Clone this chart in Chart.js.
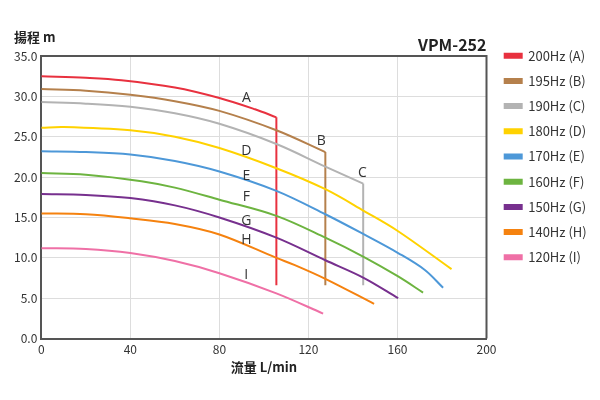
<!DOCTYPE html>
<html>
<head>
<meta charset="utf-8">
<script src="https://cdn.jsdelivr.net/npm/chart.js@4"></script>
<style>
  html, body { margin: 0; padding: 0; background: #fff; }
  #wrap { width: 600px; height: 400px; }
</style>
</head>
<body>
<div id="wrap"><canvas id="myChart"></canvas></div>
<script>
const FONT = "'Noto Sans CJK TC', 'Open Sans', sans-serif";

// curve values (flow L/min, head m)
const legendNames = ["200Hz (A)", "195Hz (B)", "190Hz (C)", "180Hz (D)", "170Hz (E)", "160Hz (F)", "150Hz (G)", "140Hz (H)", "120Hz (I)"];
const colors = ["#e8313f", "#b5804c", "#b3b3b3", "#ffd200", "#4d98d8", "#6db440", "#77308e", "#f5820f", "#ef70a6"];

const flowA = [0, 20, 36, 60, 80, 96, 105.6];
const headA = [32.5, 32.3, 32.0, 31.1, 29.8, 28.4, 27.4];
const flowB = [0, 20, 40, 60, 80, 105.6, 127.6];
const headB = [30.9, 30.7, 30.2, 29.4, 28.2, 25.8, 23.1];
const flowC = [0, 20, 40, 60, 80, 105.6, 127.6, 144.6];
const headC = [29.3, 29.1, 28.7, 27.9, 26.6, 24.1, 21.3, 19.2];
const flowD = [0, 10, 40, 60, 80, 105.6, 127.6, 145, 160.3, 184.3];
const headD = [26.1, 26.2, 25.8, 25.0, 23.6, 21.1, 18.5, 15.8, 13.3, 8.6];
const flowE = [0, 20, 40, 60, 80, 105.6, 127.6, 145, 160.3, 172.3, 180.5];
const headE = [23.2, 23.1, 22.8, 22.0, 20.7, 18.3, 15.4, 12.9, 10.6, 8.5, 6.3];
const flowF = [0, 20, 45, 60, 80, 105.6, 127.6, 145, 160.3, 171.5];
const headF = [20.5, 20.3, 19.5, 18.7, 17.2, 15.2, 12.5, 10.1, 7.7, 5.7];
const flowG = [0, 20, 40, 60, 80, 105.6, 127.6, 145, 160.3];
const headG = [17.9, 17.8, 17.4, 16.5, 15.0, 12.5, 9.7, 7.5, 5.0];
const flowH = [0, 20, 40, 60, 80, 105.6, 113.9, 127.6, 149.5];
const headH = [15.5, 15.4, 14.9, 14.2, 12.9, 10.0, 9.1, 7.4, 4.3];
const flowI = [0, 20, 40, 60, 80, 105.6, 126.6];
const headI = [11.2, 11.1, 10.6, 9.6, 8.1, 5.6, 3.1];

// vertical cut-off lines for A, B, C
const cutFlow = [105.6, 127.6, 144.6];
const cutTop = [27.4, 23.1, 19.2];
const cutBottom = [6.6, 6.6, 6.6];

// curve letters
const letters = ["A", "B", "C", "D", "E", "F", "G", "H", "I"];
const letterFlow = [92.1, 125.8, 144.3, 92.1, 92.1, 92.1, 92.1, 92.1, 92.1];
const letterHead = [29.8, 24.5, 20.5, 23.2, 20.1, 17.5, 14.6, 12.2, 7.9];

const xTicks = [0, 40, 80, 120, 160, 200];

const flows = [flowA, flowB, flowC, flowD, flowE, flowF, flowG, flowH, flowI];
const heads = [headA, headB, headC, headD, headE, headF, headG, headH, headI];

let datasets = flows.map((f, i) => ({
  label: legendNames[i],
  data: f.map((x, j) => ({ x: x, y: heads[i][j] })),
  borderColor: colors[i],
  backgroundColor: colors[i],
  borderWidth: 2,
  pointRadius: 0,
  showLine: true,
  tension: 0.35
}));

cutFlow.forEach((x, i) => {
  datasets.push({
    label: "cut",
    data: [{ x: x, y: cutTop[i] }, { x: x, y: cutBottom[i] }],
    borderColor: colors[i],
    borderWidth: 2,
    pointRadius: 0,
    showLine: true,
    tension: 0
  });
});

const extras = {
  id: "extras",
  afterDraw(chart) {
    const c = chart.ctx;
    const a = chart.chartArea;
    const xs = chart.scales.x, ys = chart.scales.y;
    c.save();
    // frame top/right
    c.strokeStyle = "#555";
    c.lineWidth = 2;
    c.beginPath();
    c.moveTo(a.left, a.top);
    c.lineTo(a.right, a.top);
    c.lineTo(a.right, a.bottom);
    c.stroke();
    // curve letters
    c.fillStyle = "#333";
    c.font = "14px 'Open Sans', sans-serif";
    c.textAlign = "center";
    c.textBaseline = "middle";
    letters.forEach((t, i) => {
      c.fillText(t, xs.getPixelForValue(letterFlow[i]), ys.getPixelForValue(letterHead[i]));
    });
    // y title
    c.fillStyle = "#222";
    c.font = "bold 13px " + FONT;
    c.textAlign = "left";
    c.textBaseline = "alphabetic";
    c.fillText("揚程 m", 14, 42);
    c.restore();
  }
};

const ctx = document.getElementById("myChart").getContext("2d");
const myChart = new Chart(ctx, {
  type: "scatter",
  data: { datasets: datasets },
  options: {
    responsive: true,
    maintainAspectRatio: false,
    animation: false,
    layout: { padding: { top: 37, right: 11, left: 10, bottom: 26 } },
    plugins: {
      title: {
        display: true,
        text: "VPM-252",
        align: "end",
        fullSize: false,
        color: "#222",
        padding: { top: 0, bottom: 3 },
        font: { family: FONT, size: 16, weight: "bold", lineHeight: 1 }
      },
      legend: {
        position: "right",
        align: "start",
        labels: {
          boxWidth: 17,
          boxHeight: 4,
          padding: 12.2,
          color: "#333",
          font: { family: FONT, size: 13 },
          filter: item => item.text !== "cut"
        }
      },
      tooltip: { enabled: false }
    },
    scales: {
      x: {
        type: "linear",
        min: 0,
        max: 200,
        afterBuildTicks: axis => { axis.ticks = xTicks.map(v => ({ value: v })); },
        grid: { color: "#dddddd", drawTicks: false },
        border: { color: "#555", width: 2 },
        ticks: { color: "#333", padding: 4, font: { family: FONT, size: 12 } },
        title: { display: true, text: "流量 L/min", color: "#222", padding: { top: 0, bottom: 0 }, font: { family: FONT, size: 13, weight: "bold", lineHeight: 1 } }
      },
      y: {
        min: 0,
        max: 35,
        grid: { color: "#dddddd", drawTicks: false },
        border: { color: "#555", width: 2 },
        ticks: { stepSize: 5, color: "#333", padding: 4, font: { family: FONT, size: 12 }, callback: v => v.toFixed(1) }
      },
      // empty spacer between the plot and the legend
      gap: {
        type: "linear",
        axis: "y",
        position: "right",
        grid: { display: false },
        border: { display: false },
        ticks: { display: false },
        afterFit: axis => { axis.width = 6; }
      }
    }
  },
  plugins: [extras]
});
</script>
</body>
</html>
